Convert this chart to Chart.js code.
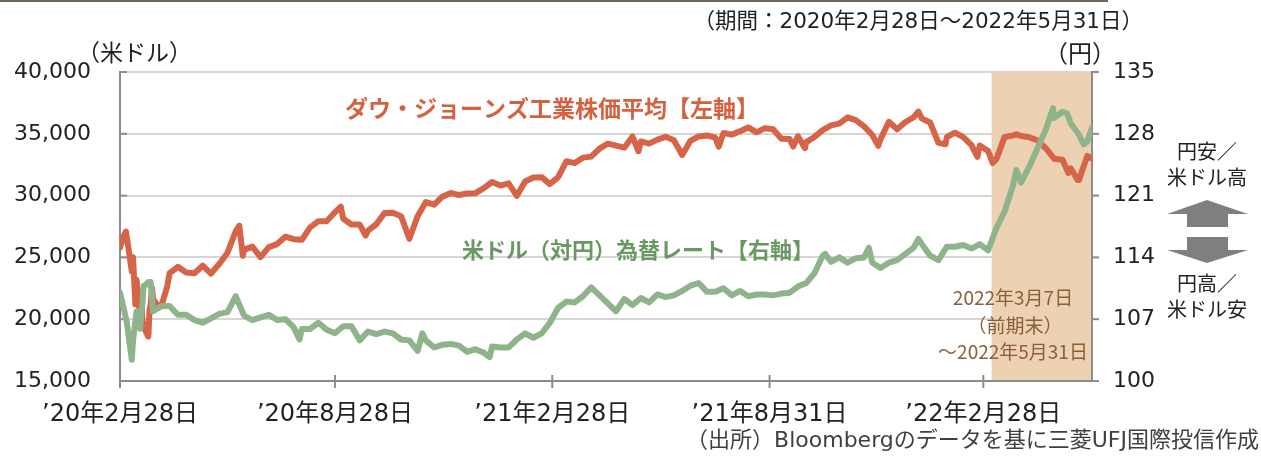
<!DOCTYPE html>
<html lang="ja">
<head>
<meta charset="utf-8">
<script src="https://cdn.jsdelivr.net/npm/chart.js@4.4.1/dist/chart.umd.min.js"></script>
<style>
  html, body { margin: 0; padding: 0; background: #fff; }
  #wrap { position: relative; width: 1261px; height: 456px; }
</style>
</head>
<body>
<div id="wrap"><canvas id="myChart" width="1261" height="456"></canvas></div>
<script>
//データ (x は 2020年2月28日からの経過日数)
const xTickDays = [0, 182, 366, 550, 731]
const xTickLabels = ["’20年2月28日", "’20年8月28日", "’21年2月28日", "’21年8月31日", "’22年2月28日"]
const lastDay = 823 //2022年5月31日
const shadeStartDay = 738 //2022年3月7日

//ダウ・ジョーンズ工業株価平均 (米ドル)
const dowDays = [
  0, 3, 5, 7, 10, 11, 13, 14, 17, 18, 19, 21, 24, 25, 26, 27, 28, 33, 35, 40,
  42, 49, 56, 63, 70, 77, 84, 91, 98, 101, 104, 105, 112, 119, 126, 133, 140, 147, 154, 161,
  168, 175, 182, 187, 189, 196, 203, 208, 210, 217, 224, 231, 238, 245, 252, 259, 266, 273, 280, 287,
  294, 301, 308, 315, 322, 329, 336, 343, 350, 357, 364, 371, 378, 385, 392, 399, 406, 413, 420, 427,
  434, 439, 441, 448, 455, 462, 469, 476, 483, 490, 497, 504, 507, 511, 518, 525, 532, 539, 546, 553,
  560, 567, 570, 574, 580, 581, 588, 595, 602, 609, 616, 623, 630, 637, 642, 644, 651, 658, 665, 672,
  676, 679, 686, 693, 699, 700, 707, 714, 721, 726, 728, 735, 739, 742, 749, 756, 759, 763, 770, 777,
  784, 791, 798, 803, 805, 811, 812, 819, 823
]
const dowValues = [
  25800, 26703, 27091, 25865, 23851, 25018, 21200, 23185, 20189, 21237, 19899, 19174, 18592, 20704, 21200, 22552, 21637, 20944, 21053, 22653,
  23719, 24242, 23775, 23724, 24331, 23685, 24465, 25383, 27111, 27572, 25128, 25606, 25871, 25016, 25827, 26075, 26672, 26470, 26428, 27433,
  27931, 27930, 28654, 29100, 28133, 27666, 27657, 26763, 27174, 27683, 28587, 28606, 28335, 26502, 28323, 29480, 29263, 29910, 30218, 30046,
  30179, 30200, 30606, 31098, 30814, 30997, 29983, 31148, 31458, 31494, 30932, 31496, 32779, 32628, 33072, 33153, 33801, 34200, 34043, 33875,
  34778, 33587, 34382, 34208, 34529, 34756, 34480, 33290, 34434, 34786, 34870, 34688, 33962, 35062, 34935, 35209, 35515, 35120, 35456, 35369,
  34608, 34584, 33970, 34798, 33844, 34326, 34746, 35295, 35677, 35820, 36328, 36100, 35602, 34899, 34022, 34580, 35971, 35365, 35950, 36338,
  36799, 36231, 35912, 34265, 34160, 34725, 35089, 34738, 34079, 33132, 34059, 33614, 32632, 32944, 34754, 34861, 34955, 34818, 34721, 34451,
  33811, 32977, 32899, 31834, 32196, 31253, 31262, 33213, 32990
]

//米ドル(対円)為替レート (円)
const fxDays = [
  0, 3, 6, 7, 10, 11, 14, 17, 18, 19, 20, 21, 24, 26, 27, 28, 35, 42, 49, 56,
  63, 70, 77, 84, 91, 98, 105, 112, 119, 126, 133, 140, 147, 152, 154, 161, 168, 175, 182, 189,
  196, 203, 210, 217, 224, 231, 238, 245, 252, 256, 259, 266, 273, 280, 287, 294, 301, 308, 313, 315,
  322, 329, 336, 343, 350, 357, 364, 371, 378, 385, 392, 399, 406, 413, 420, 427, 434, 441, 448, 455,
  462, 469, 476, 483, 490, 497, 504, 511, 518, 525, 532, 539, 546, 553, 560, 567, 574, 581, 588, 595,
  597, 602, 609, 616, 623, 630, 634, 637, 644, 651, 658, 665, 672, 676, 679, 686, 693, 700, 707, 714,
  721, 728, 735, 742, 749, 756, 759, 763, 770, 777, 784, 790, 791, 798, 802, 805, 812, 816, 819, 823
]
const fxValues = [
  110.0, 108.3, 106.5, 105.4, 102.4, 104.5, 107.9, 105.9, 107.6, 108.8, 110.8, 110.8, 111.2, 111.2, 109.6, 107.9, 108.5, 108.5, 107.5, 107.5,
  106.9, 106.6, 107.1, 107.6, 107.8, 109.6, 107.4, 106.9, 107.2, 107.5, 106.9, 107.0, 106.1, 104.7, 105.9, 105.9, 106.6, 105.8, 105.4, 106.2,
  106.2, 104.6, 105.6, 105.3, 105.6, 105.4, 104.7, 104.6, 103.4, 105.4, 104.6, 103.8, 104.1, 104.2, 104.0, 103.3, 103.6, 103.2, 102.7, 103.9,
  103.8, 103.8, 104.7, 105.4, 104.9, 105.4, 106.6, 108.3, 109.0, 108.9, 109.6, 110.6, 109.7, 108.8, 107.9, 109.3, 108.6, 109.4, 108.9, 109.8,
  109.5, 109.7, 110.2, 110.8, 111.1, 110.1, 110.1, 110.5, 109.7, 110.2, 109.6, 109.8, 109.8, 109.7, 109.9, 110.0, 110.7, 111.1, 112.2, 114.2,
  114.4, 113.5, 114.0, 113.4, 113.9, 114.0, 115.1, 113.4, 112.8, 113.4, 113.7, 114.4, 115.1, 116.1, 115.5, 114.2, 113.7, 115.2, 115.2, 115.4,
  115.0, 115.5, 114.8, 117.3, 119.2, 122.1, 123.9, 122.5, 124.3, 126.4, 128.5, 130.9, 129.8, 130.5, 130.3, 129.2, 127.9, 126.8, 127.1, 128.7
]

//色とフォント
const dowColor = "#d66448"
const fxColor = "#8fb38b"
const axisGray = "#8c8c8c"
const textColor = "#222222"
const numFont = '"DejaVu Sans", "Noto Sans CJK JP", sans-serif'
const jpFont = '"Noto Sans CJK JP", sans-serif'

const toPoints = (days, values) => days.map((d, i) => ({ x: d, y: values[i] }))

//テキスト描画の共通関数
const drawText = (ctx, text, x, y, size, color, align, family, weight) => {
  ctx.font = `${weight || "normal"} ${size}px ${family}`
  ctx.fillStyle = color
  ctx.textAlign = align
  ctx.textBaseline = "middle"
  ctx.fillText(text, x, y)
}

const line = (ctx, x1, y1, x2, y2) => {
  ctx.beginPath()
  ctx.moveTo(x1, y1)
  ctx.lineTo(x2, y2)
  ctx.stroke()
}

//網掛け・軸線・注記など
const decorPlugin = {
  id: "decor",
  beforeDatasetsDraw(chart) {
    const { ctx, chartArea: a, scales: { x, y, y1 } } = chart
    ctx.save()
    //前期末以降の網掛け
    const sx = x.getPixelForValue(shadeStartDay)
    ctx.fillStyle = "#ecd2b2"
    ctx.fillRect(sx, a.top, a.right - sx, a.bottom - a.top)

    //軸線と目盛り
    ctx.strokeStyle = axisGray
    ctx.lineWidth = 2
    line(ctx, a.left, a.top - 1, a.left, a.bottom)
    line(ctx, a.right, a.top - 1, a.right, a.bottom)
    line(ctx, a.left - 1, a.bottom, a.right + 1, a.bottom)
    y.ticks.forEach(t => {
      const py = y.getPixelForValue(t.value)
      line(ctx, a.left, py, a.left + 7, py)
    })
    y1.ticks.forEach(t => {
      const py = y1.getPixelForValue(t.value)
      line(ctx, a.right, py, a.right + 7, py)
    })
    x.ticks.forEach(t => {
      const px = x.getPixelForValue(t.value)
      line(ctx, px, a.bottom - 6, px, a.bottom + 7)
    })
    ctx.restore()
  },
  afterDatasetsDraw(chart) {
    const { ctx } = chart
    ctx.save()
    drawText(ctx, "ダウ・ジョーンズ工業株価平均【左軸】", 345, 108, 23, "#d5613f", "left", jpFont, "bold")
    drawText(ctx, "米ドル（対円）為替レート【右軸】", 462, 250, 22, "#6a9863", "left", jpFont, "bold")
    const brown = "#8a5f38"
    drawText(ctx, "2022年3月7日", 1013, 298, 19, brown, "center", jpFont)
    drawText(ctx, "（前期末）", 1015, 326, 19, brown, "center", jpFont)
    drawText(ctx, "～2022年5月31日", 1013, 352, 19, brown, "center", jpFont)
    ctx.restore()
  },
  afterDraw(chart) {
    const { ctx } = chart
    ctx.save()
    //上端の枠線
    ctx.fillStyle = "#72665c"
    ctx.fillRect(0, 0, 1108, 2)

    drawText(ctx, "（期間：2020年2月28日～2022年5月31日）", 1143, 22, 21.5, textColor, "right", numFont)
    drawText(ctx, "（米ドル）", 77, 52, 23, textColor, "left", jpFont)
    drawText(ctx, "（円）", 1044, 53, 24, textColor, "left", jpFont)

    //右側の円安・円高の説明
    drawText(ctx, "円安／", 1207, 151, 20, textColor, "center", jpFont)
    drawText(ctx, "米ドル高", 1207, 177, 20, textColor, "center", jpFont)
    drawText(ctx, "円高／", 1207, 283, 20, textColor, "center", jpFont)
    drawText(ctx, "米ドル安", 1207, 309, 20, textColor, "center", jpFont)

    ctx.fillStyle = "#7f7f7f"
    ctx.beginPath()
    ctx.moveTo(1167, 214); ctx.lineTo(1207, 200); ctx.lineTo(1248, 214)
    ctx.lineTo(1228, 214); ctx.lineTo(1228, 227); ctx.lineTo(1187, 227); ctx.lineTo(1187, 214)
    ctx.closePath()
    ctx.fill()
    ctx.beginPath()
    ctx.moveTo(1187, 237); ctx.lineTo(1228, 237); ctx.lineTo(1228, 250); ctx.lineTo(1248, 250)
    ctx.lineTo(1207, 263); ctx.lineTo(1167, 250); ctx.lineTo(1187, 250)
    ctx.closePath()
    ctx.fill()

    drawText(ctx, "（出所）Bloombergのデータを基に三菱UFJ国際投信作成", 1259, 441, 22, "#404040", "right", numFont)
    ctx.restore()
  }
}

//グラフの初期化
const ctx = document.getElementById("myChart").getContext("2d")
const myChart = new Chart(ctx, {
  type: "line",
  data: {
    datasets: [{
      label: "米ドル(対円)為替レート",
      data: toPoints(fxDays, fxValues),
      yAxisID: "y1",
      borderColor: fxColor,
      borderWidth: 6,
      pointRadius: 0,
      tension: 0,
      borderJoinStyle: "round",
      borderCapStyle: "round",
      order: 0
    }, {
      label: "ダウ・ジョーンズ工業株価平均",
      data: toPoints(dowDays, dowValues),
      yAxisID: "y",
      borderColor: dowColor,
      borderWidth: 6,
      pointRadius: 0,
      tension: 0,
      borderJoinStyle: "round",
      borderCapStyle: "round",
      order: 1
    }]
  },
  options: {
    responsive: false,
    animation: false,
    events: [],
    layout: { padding: { top: 72, left: 0, right: 0, bottom: 0 } },
    plugins: {
      legend: { display: false },
      tooltip: { enabled: false }
    },
    scales: {
      x: {
        type: "linear",
        position: "bottom",
        min: 0,
        max: lastDay,
        afterBuildTicks: s => { s.ticks = xTickDays.map(v => ({ value: v })) },
        afterFit: s => { s.height = 75 },
        grid: { display: false, drawTicks: false },
        border: { display: false },
        ticks: {
          autoSkip: false,
          maxRotation: 0,
          padding: 19,
          color: textColor,
          font: { family: numFont, size: 24 },
          callback: (v, i) => xTickLabels[i]
        }
      },
      y: {
        type: "linear",
        position: "left",
        min: 15000,
        max: 40000,
        afterFit: s => { s.width = 120 },
        grid: { color: "#d6d6d6", lineWidth: 2, drawTicks: false },
        border: { display: false },
        ticks: {
          stepSize: 5000,
          padding: 29,
          color: textColor,
          font: { family: numFont, size: 22 },
          callback: v => v.toLocaleString("en-US")
        }
      },
      y1: {
        type: "linear",
        position: "right",
        min: 100,
        max: 135,
        afterFit: s => { s.width = 169 },
        grid: { display: false, drawTicks: false },
        border: { display: false },
        ticks: {
          stepSize: 7,
          padding: 21,
          color: textColor,
          font: { family: numFont, size: 22 }
        }
      }
    }
  },
  plugins: [decorPlugin]
})
</script>
</body>
</html>
